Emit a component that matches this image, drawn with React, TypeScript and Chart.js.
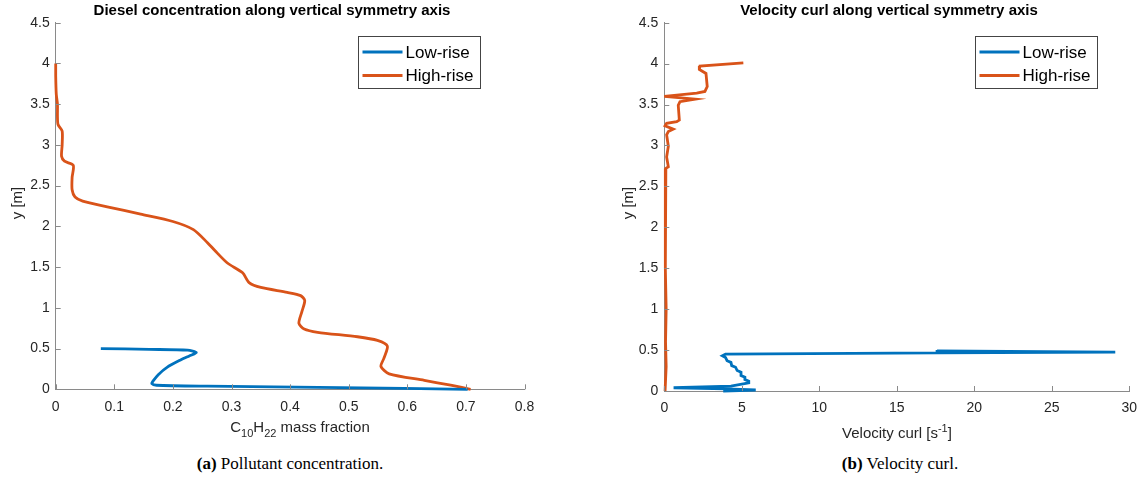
import React, { useEffect, useRef } from 'react';
import { Chart, registerables } from 'chart.js';

Chart.register(...registerables);

// ---------- data ----------
const yTicks = [0, 0.5, 1, 1.5, 2, 2.5, 3, 3.5, 4, 4.5];
const concTicks = [0, 0.1, 0.2, 0.3, 0.4, 0.5, 0.6, 0.7, 0.8];
const curlTicks = [0, 5, 10, 15, 20, 25, 30];
const seriesNames = ['Low-rise', 'High-rise'];

// (a) Diesel concentration
const concLowX = [0.077, 0.16, 0.225, 0.24, 0.228, 0.213, 0.19, 0.175, 0.166, 0.164, 0.172, 0.259, 0.486, 0.703];
const concLowY = [0.5, 0.49, 0.48, 0.45, 0.41, 0.36, 0.27, 0.18, 0.1, 0.07, 0.05, 0.038, 0.02, 0.0];
const concHighX = [0.0, 0.0, 0.001, 0.003, 0.003, 0.004, 0.011, 0.011, 0.01, 0.015, 0.03, 0.028, 0.028, 0.033, 0.046, 0.088, 0.145, 0.2, 0.235, 0.259, 0.272, 0.293, 0.319, 0.33, 0.35, 0.395, 0.418, 0.425, 0.42, 0.415, 0.424, 0.447, 0.515, 0.549, 0.566, 0.56, 0.555, 0.569, 0.629, 0.674, 0.708];
const concHighY = [4.0, 3.85, 3.62, 3.5, 3.35, 3.25, 3.17, 3.0, 2.86, 2.8, 2.75, 2.6, 2.45, 2.36, 2.31, 2.24, 2.15, 2.06, 1.96, 1.8, 1.7, 1.55, 1.43, 1.31, 1.25, 1.19, 1.15, 1.09, 0.95, 0.81, 0.74, 0.7, 0.645, 0.6, 0.53, 0.38, 0.28, 0.19, 0.11, 0.05, 0.0];

// (b) Velocity curl
const curlLowX = [3.8, 5.9, 4.0, 0.6, 4.3, 5.45, 5.45, 5.2, 5.2, 4.95, 4.95, 4.7, 4.6, 4.35, 4.3, 4.05, 3.95, 3.75, 3.95, 17.6, 29.1, 17.6, 17.6];
const curlLowY = [0.0, 0.012, 0.025, 0.04, 0.06, 0.1, 0.12, 0.14, 0.17, 0.19, 0.23, 0.25, 0.29, 0.31, 0.35, 0.37, 0.41, 0.43, 0.45, 0.465, 0.475, 0.49, 0.5];
const curlHighX = [5.1, 2.3, 2.26, 2.69, 2.77, 2.62, 2.09, 0.0, 2.0, 1.01, 0.9, 0.97, 0.8, 0.15, 0.05, 0.58, 0.26, 0.15, 0.26, 0.15, 0.26, 0.1, 0.05, 0.05, 0.1, 0.12, 0.08, 0.12, 0.05];
const curlHighY = [4.01, 3.97, 3.93, 3.88, 3.72, 3.66, 3.64, 3.6, 3.565, 3.535, 3.49, 3.31, 3.29, 3.27, 3.24, 3.2, 3.17, 3.13, 2.99, 2.86, 2.74, 2.72, 2.55, 1.85, 1.5, 1.0, 0.6, 0.3, 0.0];

// ---------- styling ----------
const BLUE = '#0072BD';
const ORANGE = '#D95319';
const AXIS = '#8a8a8a';
const TICK = '#262626';
const SANS = '"Liberation Sans", Arial, Helvetica, sans-serif';
const CANVAS_H = 450;

const zip = (xs: number[], ys: number[]) => xs.map((x, i) => ({ x, y: ys[i] }));

type Part = { t: string; dy: number; s: number };

const decor = {
  id: 'decor',
  afterDraw(chart: any, _args: any, o: any) {
    const ctx = chart.ctx as CanvasRenderingContext2D;
    const ca = chart.chartArea;
    const xs = chart.scales.x;
    const ys = chart.scales.y;
    ctx.save();
    // inward tick marks
    ctx.strokeStyle = AXIS;
    ctx.lineWidth = 1;
    ctx.beginPath();
    xs.ticks.forEach((t: any) => {
      const px = Math.round(xs.getPixelForValue(t.value)) + 0.5;
      ctx.moveTo(px, ca.bottom);
      ctx.lineTo(px, ca.bottom - 5);
    });
    ys.ticks.forEach((t: any) => {
      const py = Math.round(ys.getPixelForValue(t.value)) + 0.5;
      ctx.moveTo(ca.left, py);
      ctx.lineTo(ca.left + 5, py);
    });
    ctx.stroke();

    // title
    ctx.fillStyle = '#000';
    ctx.font = `bold 15px ${SANS}`;
    ctx.textAlign = 'center';
    ctx.textBaseline = 'middle';
    ctx.fillText(o.title, o.titleX, o.titleY);

    // y axis title
    ctx.save();
    ctx.translate(o.yTitleX, o.yTitleY);
    ctx.rotate(-Math.PI / 2);
    ctx.fillStyle = TICK;
    ctx.font = `15px ${SANS}`;
    ctx.fillText(o.yTitle, 0, 0);
    ctx.restore();

    // x axis title with sub/superscripts
    const parts: Part[] = o.xTitle;
    ctx.textAlign = 'left';
    ctx.textBaseline = 'alphabetic';
    let total = 0;
    parts.forEach((p) => {
      ctx.font = `${p.s}px ${SANS}`;
      total += ctx.measureText(p.t).width;
    });
    let x = o.xTitleX - total / 2;
    ctx.fillStyle = TICK;
    parts.forEach((p) => {
      ctx.font = `${p.s}px ${SANS}`;
      ctx.fillText(p.t, x, o.xTitleBase + p.dy);
      x += ctx.measureText(p.t).width;
    });

    // legend
    const w = 122, h = 52;
    const bx = o.legendLeft + 0.5;
    const by = o.legendTop + 0.5;
    ctx.fillStyle = '#fff';
    ctx.fillRect(bx, by, w, h);
    ctx.strokeStyle = '#444';
    ctx.lineWidth = 1;
    ctx.strokeRect(bx, by, w, h);
    const colors = [BLUE, ORANGE];
    seriesNames.forEach((name, i) => {
      const cy = by + 15.5 + i * 23.5;
      ctx.strokeStyle = colors[i];
      ctx.lineWidth = 2.8;
      ctx.beginPath();
      ctx.moveTo(bx + 4, cy);
      ctx.lineTo(bx + 44, cy);
      ctx.stroke();
      ctx.fillStyle = '#000';
      ctx.font = `17px ${SANS}`;
      ctx.textBaseline = 'middle';
      ctx.fillText(name, bx + 47, cy + 1);
    });
    ctx.restore();
  },
};

type Cfg = {
  lowX: number[]; lowY: number[]; highX: number[]; highY: number[];
  xMax: number; xTicks: number[]; yAxisW: number; xAxisH: number; padRight: number; padTop: number;
  title: string; titleX: number; xTitle: Part[]; xTitleX: number; xTitleBase: number; yTitleX: number;
  legendLeft: number; tension: number;
};

function makeConfig(c: Cfg): any {
  const fontTicks = { family: SANS, size: 14 };
  return {
    type: 'scatter',
    data: {
      datasets: [
        { label: seriesNames[0], data: zip(c.lowX, c.lowY), showLine: true, borderColor: BLUE, backgroundColor: BLUE, borderWidth: 2.8, pointRadius: 0, tension: c.tension, clip: false },
        { label: seriesNames[1], data: zip(c.highX, c.highY), showLine: true, borderColor: ORANGE, backgroundColor: ORANGE, borderWidth: 2.8, pointRadius: 0, tension: c.tension, clip: false },
      ],
    },
    options: {
      responsive: false,
      animation: false,
      devicePixelRatio: 1,
      events: [],
      layout: { padding: { left: 0, right: c.padRight, top: c.padTop, bottom: 0 } },
      plugins: {
        legend: { display: false },
        tooltip: { enabled: false },
        title: { display: false },
        decor: {
          title: c.title,
          titleX: c.titleX,
          titleY: 11,
          yTitle: 'y [m]',
          yTitleX: c.yTitleX,
          yTitleY: 203,
          xTitle: c.xTitle,
          xTitleX: c.xTitleX,
          xTitleBase: c.xTitleBase,
          legendLeft: c.legendLeft,
          legendTop: 36,
        },
      },
      scales: {
        x: {
          type: 'linear',
          min: 0,
          max: c.xMax,
          afterBuildTicks: (s: any) => { s.ticks = c.xTicks.map((v) => ({ value: v })); },
          afterFit: (s: any) => { s.height = c.xAxisH; },
          grid: { display: false, drawTicks: false },
          border: { display: true, color: AXIS, width: 1 },
          ticks: { color: TICK, font: fontTicks, padding: 9, maxRotation: 0, autoSkip: false, callback: (v: any) => String(v) },
        },
        y: {
          type: 'linear',
          min: 0,
          max: 4.5,
          afterBuildTicks: (s: any) => { s.ticks = yTicks.map((v) => ({ value: v })); },
          afterFit: (s: any) => { s.width = c.yAxisW; },
          grid: { display: false, drawTicks: false },
          border: { display: true, color: AXIS, width: 1 },
          ticks: { color: TICK, font: fontTicks, padding: 6, autoSkip: false, callback: (v: any) => String(v) },
        },
      },
    },
    plugins: [decor],
  };
}

function ChartCanvas({ cfg, left, width, height }: { cfg: Cfg; left: number; width: number; height: number }) {
  const ref = useRef<HTMLCanvasElement>(null);
  useEffect(() => {
    if (!ref.current) return;
    const chart = new Chart(ref.current, makeConfig(cfg));
    return () => chart.destroy();
  }, []);
  return (
    <canvas
      ref={ref}
      width={width}
      height={height}
      style={{ position: 'absolute', left, top: 0, width, height }}
    />
  );
}

const leftCfg: Cfg = {
  lowX: concLowX, lowY: concLowY, highX: concHighX, highY: concHighY,
  xMax: 0.8, xTicks: concTicks, yAxisW: 55.7, xAxisH: CANVAS_H - 389.3, padRight: 48.5, padTop: 22.7,
  title: 'Diesel concentration along vertical symmetry axis',
  titleX: 272,
  xTitle: [
    { t: 'C', dy: 0, s: 15 },
    { t: '10', dy: 5, s: 11 },
    { t: 'H', dy: 0, s: 15 },
    { t: '22', dy: 5, s: 11 },
    { t: ' mass fraction', dy: 0, s: 15 },
  ],
  xTitleX: 300, xTitleBase: 432, yTitleX: 18, legendLeft: 358, tension: 0.25,
};

const rightCfg: Cfg = {
  lowX: curlLowX, lowY: curlLowY, highX: curlHighX, highY: curlHighY,
  xMax: 30, xTicks: curlTicks, yAxisW: 91.3, xAxisH: CANVAS_H - 391, padRight: 16, padTop: 22.7,
  title: 'Velocity curl along vertical symmetry axis',
  titleX: 316,
  xTitle: [
    { t: 'Velocity curl [s', dy: 0, s: 15 },
    { t: '-1', dy: -6, s: 11 },
    { t: ']', dy: 0, s: 15 },
  ],
  xTitleX: 324, xTitleBase: 438, yTitleX: 56, legendLeft: 402, tension: 0,
};

const captionStyle: React.CSSProperties = {
  position: 'absolute',
  top: 453,
  width: 400,
  textAlign: 'center',
  fontFamily: '"Liberation Serif", "DejaVu Serif", serif',
  fontSize: 17,
  lineHeight: '22px',
  color: '#000',
};

export default function App() {
  return (
    <div style={{ position: 'absolute', left: 0, top: 0, width: 1146, height: 486, background: '#fff', overflow: 'hidden' }}>
      <ChartCanvas cfg={leftCfg} left={0} width={573} height={CANVAS_H} />
      <ChartCanvas cfg={rightCfg} left={573} width={573} height={CANVAS_H} />
      <div style={{ ...captionStyle, left: 290 - 200 }}>
        <b>(a)</b> Pollutant concentration.
      </div>
      <div style={{ ...captionStyle, left: 900 - 200 }}>
        <b>(b)</b> Velocity curl.
      </div>
    </div>
  );
}
